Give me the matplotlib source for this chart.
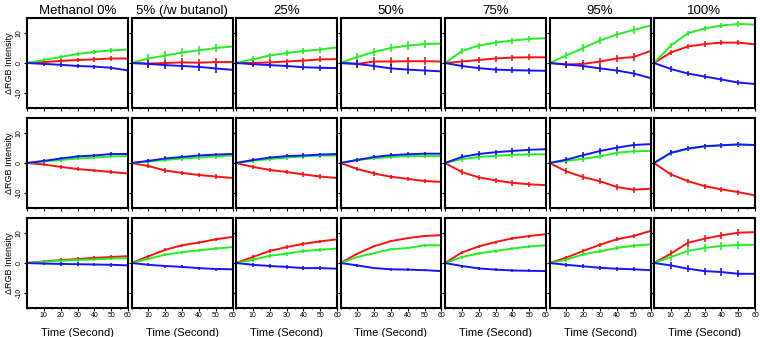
import numpy as np
import matplotlib.pyplot as plt
from matplotlib.ticker import MultipleLocator

plt.rcParams['font.family'] = ['Liberation Sans', 'DejaVu Sans']

# sampling times (s)
t = [0, 10, 20, 30, 40, 50, 60]

titles = ["Methanol 0%", "5% (/w butanol)", "25%", "50%", "75%", "95%", "100%"]

# mean change of each colour channel, one list per panel (rows top->bottom, cols left->right)
red = [
    [[0, 0.3, 0.7, 1.0, 1.2, 1.5, 1.5],
     [0, -0.2, 0.0, 0.2, 0.1, 0.3, 0.3],
     [0, 0.0, 0.2, 0.5, 0.8, 1.2, 1.3],
     [0, -0.3, 0.5, 0.5, 0.6, 0.6, 0.5],
     [0, 0.5, 1.0, 1.5, 1.8, 1.9, 1.9],
     [0, -0.5, -0.3, 0.5, 1.5, 2.0, 4.0],
     [0, 3.5, 5.5, 6.3, 6.8, 6.8, 6.2]],
    [[0, -0.5, -1.3, -2.0, -2.5, -3.0, -3.5],
     [0, -1.0, -2.5, -3.3, -4.0, -4.5, -5.0],
     [0, -1.3, -2.3, -3.0, -3.8, -4.5, -5.0],
     [0, -2.0, -3.5, -4.6, -5.3, -6.0, -6.3],
     [0, -3.0, -4.8, -5.8, -6.6, -7.1, -7.4],
     [0, -2.8, -4.7, -6.1, -8.0, -8.9, -8.6],
     [0, -3.8, -6.0, -7.7, -8.8, -9.7, -10.8]],
    [[0, 0.5, 1.0, 1.3, 1.7, 2.0, 2.3],
     [0, 2.2, 4.4, 5.9, 6.8, 7.9, 8.7],
     [0, 2.0, 4.0, 5.3, 6.4, 7.2, 7.9],
     [0, 3.1, 5.6, 7.3, 8.3, 9.0, 9.3],
     [0, 3.5, 5.5, 7.0, 8.2, 9.0, 9.6],
     [0, 1.8, 4.0, 6.1, 7.9, 9.0, 10.7],
     [0, 3.1, 6.7, 8.1, 9.2, 10.1, 10.3]],
]

green = [
    [[0, 1.0, 2.0, 3.0, 3.7, 4.2, 4.5],
     [0, 1.5, 2.5, 3.5, 4.2, 5.0, 5.5],
     [0, 1.2, 2.5, 3.3, 4.0, 4.5, 5.2],
     [0, 2.0, 3.7, 5.0, 5.8, 6.3, 6.5],
     [0, 4.0, 5.8, 6.8, 7.5, 8.0, 8.3],
     [0, 2.5, 5.0, 7.5, 9.5, 11.0, 12.5],
     [0, 5.8, 9.9, 11.5, 12.5, 13.0, 12.8]],
    [[0, 0.5, 1.0, 1.5, 1.8, 2.2, 2.3],
     [0, 0.5, 1.0, 1.5, 1.8, 2.2, 2.5],
     [0, 0.7, 1.3, 1.8, 2.2, 2.5, 2.5],
     [0, 1.0, 1.6, 2.0, 2.3, 2.3, 2.3],
     [0, 1.3, 2.0, 2.4, 2.7, 2.9, 2.9],
     [0, 0.7, 1.4, 2.2, 3.4, 3.9, 4.0],
     [0, 3.3, 4.7, 5.5, 5.9, 6.1, 6.0]],
    [[0, 0.4, 0.8, 1.0, 1.2, 1.5, 1.6],
     [0, 1.4, 2.8, 3.6, 4.2, 4.8, 5.3],
     [0, 1.1, 2.4, 3.1, 4.0, 4.4, 4.8],
     [0, 2.0, 3.3, 4.6, 5.0, 5.9, 5.9],
     [0, 2.0, 3.2, 4.0, 4.8, 5.5, 5.9],
     [0, 1.1, 2.9, 3.9, 5.0, 5.8, 6.2],
     [0, 2.0, 4.0, 5.0, 5.7, 6.0, 6.1]],
]

blue = [
    [[0, -0.3, -0.6, -1.0, -1.2, -1.6, -2.5],
     [0, -0.3, -0.7, -1.0, -1.3, -1.8, -2.3],
     [0, -0.4, -0.7, -1.0, -1.4, -1.6, -1.7],
     [0, -0.3, -1.0, -1.8, -2.2, -2.5, -2.8],
     [0, -1.0, -1.7, -2.2, -2.4, -2.5, -2.6],
     [0, -0.5, -1.0, -1.8, -2.5, -3.5, -5.0],
     [0, -2.0, -3.5, -4.5, -5.5, -6.5, -7.0]],
    [[0, 0.7, 1.5, 2.2, 2.5, 3.0, 3.0],
     [0, 0.7, 1.5, 2.0, 2.5, 2.8, 3.0],
     [0, 1.0, 1.8, 2.3, 2.5, 2.8, 3.0],
     [0, 1.0, 2.0, 2.6, 2.9, 3.1, 3.1],
     [0, 2.0, 3.0, 3.6, 4.0, 4.4, 4.6],
     [0, 1.1, 2.6, 4.0, 5.1, 6.0, 6.3],
     [0, 3.4, 4.8, 5.6, 5.9, 6.2, 6.0]],
    [[0, -0.2, -0.3, -0.4, -0.5, -0.6, -0.8],
     [0, -0.6, -1.0, -1.3, -1.7, -2.0, -2.1],
     [0, -0.6, -1.0, -1.3, -1.7, -1.7, -1.9],
     [0, -0.8, -1.7, -2.1, -2.2, -2.4, -2.7],
     [0, -1.0, -1.8, -2.2, -2.5, -2.6, -2.7],
     [0, -0.6, -1.1, -1.6, -1.9, -2.1, -2.4],
     [0, -0.8, -1.9, -2.7, -3.0, -3.6, -3.6]],
]

# standard deviation per panel (same for all channels in a panel)
err = [
    [0.7, 1.4, 1.0, 1.4, 1.0, 1.2, 0.9],
    [0.6, 0.7, 0.7, 0.7, 0.9, 1.0, 0.8],
    [0.6, 0.5, 0.6, 0.4, 0.5, 0.7, 1.2],
]

colors = {'red': '#ff1010', 'green': '#22ee22', 'blue': '#1515ff'}

W, H = 760, 337
fig = plt.figure(figsize=(W / 100, H / 100), dpi=100)

left0, step, pw = 27, 104.5, 101
tops = [18, 118, 218]
ph = 90

for r in range(3):
    for c in range(7):
        ax = fig.add_axes([(left0 + c * step) / W, 1 - (tops[r] + ph) / H, pw / W, ph / H])
        for series, name in ((red, 'red'), (green, 'green'), (blue, 'blue')):
            y = series[r][c]
            ax.errorbar(t, y, yerr=[0] + [err[r][c]] * 6, color=colors[name], lw=1.4,
                        elinewidth=1.2, capsize=0)
        ax.set_xlim(0, 60)
        ax.set_ylim(-15, 15)
        ax.xaxis.set_major_locator(MultipleLocator(10))
        ax.xaxis.set_minor_locator(MultipleLocator(5))
        ax.yaxis.set_major_locator(MultipleLocator(10))
        ax.tick_params(direction='out', length=2, width=0.8, labelsize=5, pad=1)
        ax.tick_params(which='minor', length=1, width=0.6)
        for s in ax.spines.values():
            s.set_linewidth(1.5)
        if r < 2:
            ax.set_xticklabels([])
        else:
            ax.set_xticks([10, 20, 30, 40, 50, 60])
            ax.set_xticklabels(['10', '20', '30', '40', '50', '60'])
            ax.set_xlabel('Time (Second)', fontsize=8, labelpad=6)
        if c == 0:
            ax.set_yticks([-10, 0, 10])
            ax.set_yticklabels(['-10', '0', '10'], rotation=90, va='center')
            ax.set_ylabel('\u0394RGB Intensity', fontsize=6.5, labelpad=1)
        else:
            ax.set_yticklabels([])
        if r == 0:
            ax.set_title(titles[c], fontsize=9.5, pad=3)

fig.savefig('out.png', dpi=100)
